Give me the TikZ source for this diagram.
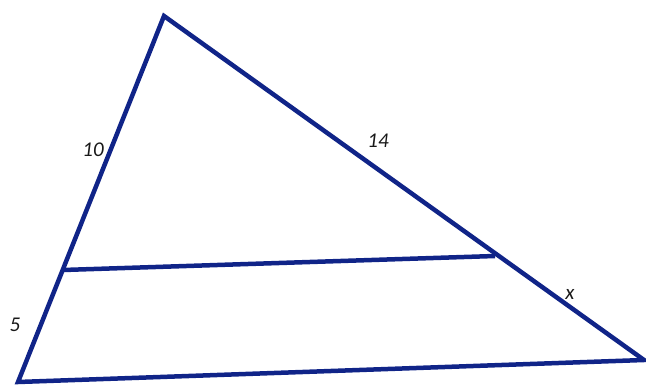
\documentclass[tikz,border=0pt]{standalone}
\usepackage{fontspec}
\setmainfont{Carlito}
\definecolor{edge}{RGB}{16,36,136}
\definecolor{lbl}{RGB}{25,25,25}
\tikzset{
  side/.style={draw=edge, line width=4.5pt, line join=miter},
  lab/.style={font=\itshape\fontsize{21}{21}\selectfont, text=lbl, inner sep=0pt}
}
\begin{document}
\begin{tikzpicture}[x=1pt,y=-1pt]
\useasboundingbox (0,0) rectangle (646,385);
\coordinate (A) at (164,16);
\coordinate (B) at (18,382);
\coordinate (C) at (644,360);
\coordinate (D) at (63,270);
\coordinate (E) at (495,256);
\draw[side] (A) -- (B) -- (C) -- cycle;
\draw[side] (D) -- (E);
\node[lab] (l10) at (93,150) {10};
\node[lab] (l14) at (378,141) {14};
\node[lab] (l5) at (15,325) {5};
\node[lab] (lx) at (570,294) {x};
\end{tikzpicture}
\end{document}
